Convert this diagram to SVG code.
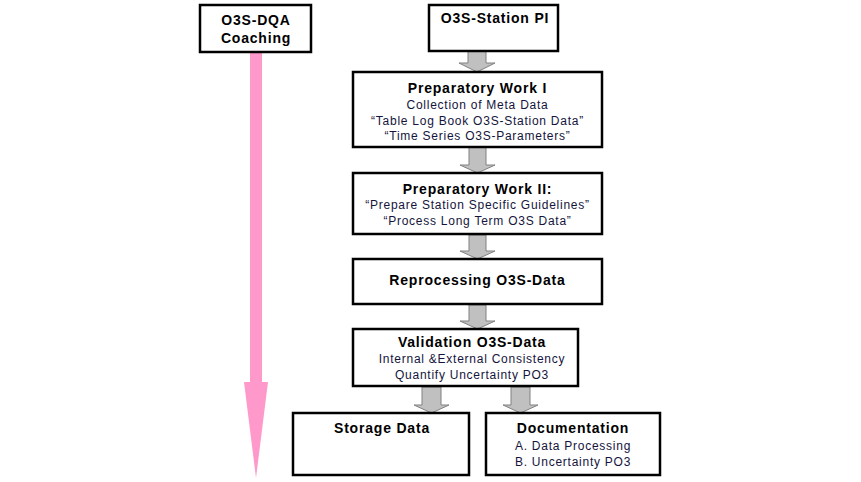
<svg xmlns="http://www.w3.org/2000/svg" width="861" height="482" viewBox="0 0 861 482">
<style>
.box{fill:#fff;stroke:#000;stroke-width:2.5}
.t{font-family:"Liberation Sans",Arial,sans-serif;font-weight:bold;font-size:14px;letter-spacing:0.8px;fill:#000;text-anchor:middle}
.s{font-family:"Liberation Sans",Arial,sans-serif;font-size:12px;letter-spacing:0.75px;fill:#14143c;text-anchor:middle}
.ga{fill:#c0c0c0;stroke:#808080;stroke-width:1}
.pa{fill:#ff99cc;stroke:none}
</style>
<rect width="861" height="482" fill="#fff"/>
<g id="connectors">
<polygon class="pa" points="250,52 262,52 262,382 268,382 256,478 244,382 250,382"/>
<polygon class="ga" points="468,51 486,51 486,63 495,63 477,72 459,63 468,63"/>
<polygon class="ga" points="469,147 486,147 486,165 495,165 477.5,173 460,165 469,165"/>
<polygon class="ga" points="469,235 486,235 486,251 495,251 477.5,259 460,251 469,251"/>
<polygon class="ga" points="469,305 486,305 486,321 495,321 477.5,329 460,321 469,321"/>
<polygon class="ga" points="422,387 441,387 441,405 449,405 431.5,413 414,405 422,405"/>
<polygon class="ga" points="511,387 530,387 530,405 538,405 520.5,413 503,405 511,405"/>
</g>
<g id="coaching">
<rect class="box" x="200" y="5" width="111" height="47"/>
<text class="t" x="256" y="25">O3S-DQA</text>
<text class="t" x="256" y="43">Coaching</text>
</g>
<g id="station-pi">
<rect class="box" x="429" y="5" width="129" height="46"/>
<text class="t" x="495" y="23">O3S-Station PI</text>
</g>
<g id="prep1">
<rect class="box" x="353" y="72" width="249" height="75"/>
<text class="t" x="477.5" y="93">Preparatory Work I</text>
<text class="s" x="477.5" y="109">Collection of Meta Data</text>
<text class="s" x="477.5" y="125">“Table Log Book O3S-Station Data”</text>
<text class="s" x="477.5" y="140">“Time Series O3S-Parameters”</text>
</g>
<g id="prep2">
<rect class="box" x="353" y="173" width="249" height="61"/>
<text class="t" x="477.5" y="194">Preparatory Work II:</text>
<text class="s" x="477.5" y="209">“Prepare Station Specific Guidelines”</text>
<text class="s" x="477.5" y="225">“Process Long Term O3S Data”</text>
</g>
<g id="reprocessing">
<rect class="box" x="353" y="259" width="249" height="45"/>
<text class="t" x="477.5" y="285">Reprocessing O3S-Data</text>
</g>
<g id="validation">
<rect class="box" x="353" y="329" width="225" height="57"/>
<text class="t" x="472" y="347">Validation O3S-Data</text>
<text class="s" x="472" y="363">Internal &amp;External Consistency</text>
<text class="s" x="472" y="379">Quantify Uncertainty PO3</text>
</g>
<g id="storage">
<rect class="box" x="293" y="413" width="176" height="62"/>
<text class="t" x="382" y="433">Storage Data</text>
</g>
<g id="documentation">
<rect class="box" x="486" y="413" width="174" height="62"/>
<text class="t" x="573" y="433">Documentation</text>
<text class="s" x="573" y="450">A. Data Processing</text>
<text class="s" x="573" y="466">B. Uncertainty PO3</text>
</g>
</svg>
